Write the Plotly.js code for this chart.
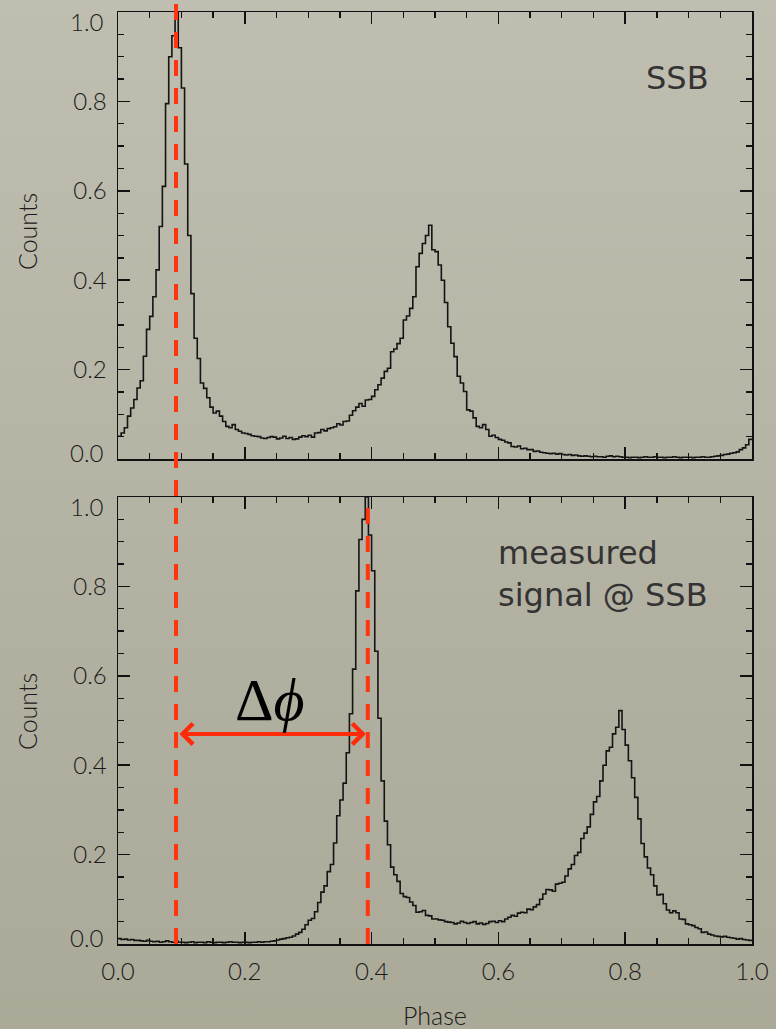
<!DOCTYPE html>
<html>
<head>
<meta charset="utf-8">
<script src="https://cdn.plot.ly/plotly-3.0.1.min.js"></script>
<style>
  html, body { margin:0; padding:0; width:776px; height:1029px; overflow:hidden;
    background: linear-gradient(180deg, #bfbeb0 0%, #b5b4a5 45%, #aba998 100%); }
  #chart { width:776px; height:1029px; }
</style>
</head>
<body>
<div id="chart"></div>
<script>
// Counts per phase bin (200 bins from 0 to 1)
const countsSSB = [
 0.051,0.058,0.070,0.096,0.114,0.133,0.159,0.175,0.230,0.290,
 0.319,0.363,0.423,0.520,0.610,0.795,0.900,0.947,1.000,0.920,
 0.830,0.660,0.500,0.370,0.270,0.225,0.170,0.158,0.137,0.116,
 0.103,0.107,0.096,0.084,0.073,0.070,0.077,0.066,0.062,0.058,
 0.057,0.055,0.052,0.051,0.050,0.047,0.046,0.048,0.050,0.049,
 0.045,0.047,0.051,0.046,0.048,0.044,0.045,0.049,0.052,0.050,
 0.053,0.049,0.058,0.059,0.066,0.063,0.068,0.070,0.072,0.079,
 0.076,0.084,0.085,0.098,0.108,0.116,0.124,0.118,0.132,0.133,
 0.140,0.155,0.166,0.181,0.196,0.203,0.240,0.246,0.258,0.270,
 0.311,0.320,0.337,0.363,0.430,0.460,0.482,0.500,0.523,0.468,
 0.464,0.434,0.400,0.350,0.296,0.259,0.229,0.185,0.170,0.151,
 0.110,0.107,0.092,0.073,0.070,0.077,0.066,0.051,0.053,0.048,
 0.044,0.042,0.038,0.036,0.028,0.027,0.029,0.023,0.024,0.021,
 0.021,0.017,0.018,0.015,0.014,0.013,0.012,0.013,0.011,0.012,
 0.010,0.009,0.010,0.008,0.009,0.007,0.006,0.007,0.006,0.005,
 0.006,0.005,0.005,0.004,0.006,0.007,0.005,0.006,0.005,0.004,
 0.004,0.003,0.004,0.004,0.003,0.004,0.005,0.004,0.004,0.005,
 0.004,0.004,0.003,0.004,0.004,0.005,0.004,0.003,0.004,0.004,
 0.004,0.003,0.004,0.004,0.005,0.004,0.004,0.005,0.006,0.007,
 0.008,0.010,0.011,0.013,0.014,0.016,0.021,0.025,0.032,0.044
];
const countsMeasured = [
 0.012,0.010,0.011,0.009,0.010,0.008,0.008,0.007,0.006,0.008,
 0.006,0.005,0.006,0.004,0.005,0.007,0.005,0.004,0.006,0.004,
 0.004,0.003,0.004,0.005,0.003,0.004,0.004,0.003,0.005,0.004,
 0.003,0.004,0.004,0.003,0.004,0.005,0.004,0.004,0.003,0.004,
 0.004,0.003,0.004,0.004,0.005,0.004,0.005,0.005,0.006,0.007,
 0.009,0.011,0.012,0.014,0.015,0.018,0.022,0.026,0.033,0.043,
 0.053,0.057,0.072,0.093,0.116,0.130,0.162,0.178,0.226,0.287,
 0.322,0.360,0.428,0.515,0.615,0.790,0.905,0.950,1.000,0.915,
 0.835,0.655,0.505,0.365,0.275,0.222,0.172,0.155,0.140,0.113,
 0.106,0.104,0.094,0.086,0.071,0.072,0.075,0.064,0.063,0.056,
 0.056,0.054,0.053,0.050,0.049,0.048,0.045,0.047,0.051,0.048,
 0.046,0.048,0.050,0.045,0.047,0.044,0.046,0.050,0.051,0.048,
 0.052,0.050,0.056,0.060,0.064,0.062,0.069,0.071,0.070,0.078,
 0.077,0.083,0.088,0.100,0.112,0.122,0.121,0.118,0.134,0.136,
 0.138,0.152,0.168,0.178,0.198,0.205,0.236,0.248,0.262,0.290,
 0.318,0.330,0.365,0.400,0.432,0.440,0.470,0.485,0.522,0.480,
 0.445,0.410,0.372,0.328,0.280,0.225,0.195,0.170,0.155,0.130,
 0.110,0.111,0.090,0.076,0.070,0.074,0.070,0.056,0.055,0.045,
 0.043,0.041,0.037,0.034,0.026,0.027,0.022,0.020,0.018,0.017,
 0.016,0.017,0.015,0.014,0.013,0.011,0.012,0.010,0.009,0.008
];
const refPhaseSSB = 0.0915;      // red dashed reference line (SSB peak)
const refPhaseMeasured = 0.394;  // red dashed line (measured peak)
const yTickInner = [0.2, 0.4, 0.6, 0.8];      // labelled by the axis
const yTickEnds = [0.0, 1.0];                 // labelled just inside the frame edge (IDL style)
const xTickVals = [0.0, 0.2, 0.4, 0.6, 0.8, 1.0];
const labelSSB = 'SSB';
const labelMeasured = 'measured<br>signal @ SSB';
const labelDelta = 'Δ<i>ϕ</i>';
const yTitle = 'Counts';
const xTitle = 'Phase';

function stepXY(vals) {
  const n = vals.length;
  const xs = [], ys = [];
  for (let i = 0; i < n; i++) { xs.push(i / n); ys.push(vals[i]); }
  xs.push(1.0); ys.push(vals[n - 1]);
  return {xs, ys};
}
const s1 = stepXY(countsSSB);
const s2 = stepXY(countsMeasured);

const lineStyle = {color:'#141414', width:1.6, shape:'hv'};
const traces = [
  {x:s1.xs, y:s1.ys, xaxis:'x', yaxis:'y', type:'scatter', mode:'lines', line:lineStyle, hoverinfo:'skip'},
  {x:s2.xs, y:s2.ys, xaxis:'x2', yaxis:'y2', type:'scatter', mode:'lines', line:lineStyle, hoverinfo:'skip'}
];

const textFamily = 'Lato, "Open Sans", sans-serif';
const tickFont = {family:textFamily, size:24, color:'#1a1a1a', weight:300};
const axCommon = {
  range:[0,1], showline:true, linecolor:'#111', linewidth:1.5, mirror:'ticks',
  ticks:'inside', ticklen:12, tickwidth:1.5, tickcolor:'#111',
  minor:{ticks:'inside', ticklen:6, tickwidth:1.3, dtick:0.05, tickcolor:'#111'},
  showgrid:false, zeroline:false, tickfont:tickFont, fixedrange:true,
  ticklabeloverflow:'allow'
};
const xAx = Object.assign({}, axCommon, {tickvals:xTickVals, tickformat:'.1f'});
const yAx = Object.assign({}, axCommon, {tickvals:yTickInner, tickformat:'.1f', ticklabelstandoff:5});

const L = 118, R = 24, T = 12, B = 85;
const W = 776, H = 1029;
const plotW = W - L - R, plotH = H - T - B;
const px2paperX = px => (px - L) / plotW;
const px2paperY = py => (H - B - py) / plotH;

const labelFont = {family:textFamily, size:25, color:'#1a1a1a', weight:300};

// end labels of the y axes, nudged inward like the original
const endLabels = [];
['y', 'y2'].forEach(yref => {
  yTickEnds.forEach(v => {
    endLabels.push({xref:'paper', yref:yref, x:px2paperX(106), y:v,
      xanchor:'right', yanchor:'middle', yshift: v === 0 ? 7 : -9,
      text:v.toFixed(1), showarrow:false, font:tickFont});
  });
});

const layout = {
  width:W, height:H,
  margin:{l:L, r:R, t:T, b:B},
  paper_bgcolor:'rgba(0,0,0,0)', plot_bgcolor:'rgba(0,0,0,0)',
  showlegend:false,
  xaxis: Object.assign({}, xAx, {domain:[0,1], anchor:'y', showticklabels:false}),
  yaxis: Object.assign({}, yAx, {domain:[px2paperY(459), 1], anchor:'x'}),
  xaxis2: Object.assign({}, xAx, {domain:[0,1], anchor:'y2', ticklabelstandoff:6}),
  yaxis2: Object.assign({}, yAx, {domain:[0, px2paperY(497)], anchor:'x2'}),
  shapes:[
    {type:'line', xref:'x', yref:'paper', x0:refPhaseSSB, x1:refPhaseSSB, y0:0, y1:px2paperY(0),
     line:{color:'#ff3511', width:4, dash:'16px,12px'}, layer:'above'},
    {type:'line', xref:'x2', yref:'paper', x0:refPhaseMeasured, x1:refPhaseMeasured, y0:0, y1:px2paperY(505),
     line:{color:'#ff3511', width:4, dash:'16px,12px'}, layer:'above'}
  ],
  annotations: endLabels.concat([
    {xref:'x2', yref:'y2', x:refPhaseMeasured - 0.003, y:0.47, axref:'x2', ayref:'y2',
     ax:refPhaseSSB + 0.003, ay:0.47, text:'', showarrow:true, arrowside:'end+start',
     arrowhead:4, startarrowhead:4, arrowsize:1, startarrowsize:1, arrowwidth:4, arrowcolor:'#ff2a0a',
     standoff:0, startstandoff:0},
    {xref:'paper', yref:'paper', x:px2paperX(270), y:px2paperY(700), xanchor:'center', yanchor:'middle',
     text:labelDelta, showarrow:false, font:{family:'"Liberation Serif", "DejaVu Serif", serif', size:60, color:'#000'}},
    {xref:'paper', yref:'paper', x:px2paperX(677), y:px2paperY(78), xanchor:'center', yanchor:'middle',
     text:labelSSB, showarrow:false, font:{family:'"DejaVu Sans", sans-serif', size:32, color:'#333'}},
    {xref:'paper', yref:'paper', x:px2paperX(496), y:px2paperY(574), xanchor:'left', yanchor:'middle', align:'left',
     text:labelMeasured, showarrow:false, font:{family:'"DejaVu Sans", sans-serif', size:32, color:'#333'}},
    {xref:'paper', yref:'paper', x:px2paperX(27), y:px2paperY(232), xanchor:'center', yanchor:'middle', textangle:-90,
     text:yTitle, showarrow:false, font:labelFont},
    {xref:'paper', yref:'paper', x:px2paperX(27), y:px2paperY(712), xanchor:'center', yanchor:'middle', textangle:-90,
     text:yTitle, showarrow:false, font:labelFont},
    {xref:'paper', yref:'paper', x:px2paperX(435), y:px2paperY(1015), xanchor:'center', yanchor:'middle',
     text:xTitle, showarrow:false, font:labelFont}
  ])
};

Plotly.newPlot('chart', traces, layout, {staticPlot:true, displayModeBar:false});
</script>
</body>
</html>
